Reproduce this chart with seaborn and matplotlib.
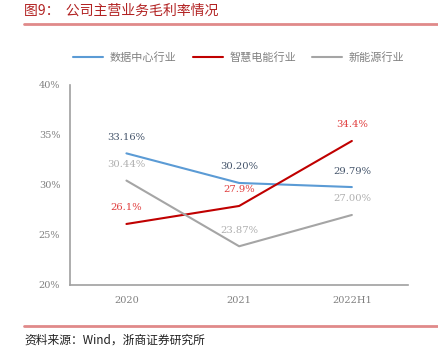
import pandas as pd
import seaborn as sns
import matplotlib.pyplot as plt
from matplotlib.lines import Line2D

periods = ['2020', '2021', '2022H1']
series_names = ['数据中心行业', '智慧电能行业', '新能源行业']
data_center = [33.16, 30.20, 29.79]
smart_power = [26.1, 27.9, 34.4]
new_energy = [30.44, 23.87, 27.00]
point_labels = [['33.16%', '30.20%', '29.79%'],
                ['26.1%', '27.9%', '34.4%'],
                ['30.44%', '23.87%', '27.00%']]
y_ticks = [20, 25, 30, 35, 40]


def main() -> None:
    rows = []
    for name, vals in zip(series_names, [data_center, smart_power, new_energy]):
        for p, v in zip(periods, vals):
            rows.append({'period': p, 'series': name, 'value': v})
    df = pd.DataFrame(rows)

    sns.set_style('white')
    plt.rcParams['font.family'] = ['Noto Sans CJK SC', 'DejaVu Sans']

    line_colors = ['#5B9BD5', '#C00000', '#A5A5A5']
    label_colors = ['#44546A', '#E03C3C', '#AFAFAF']
    palette = dict(zip(series_names, line_colors))

    fig = plt.figure(figsize=(4.38, 3.54), dpi=100)
    ax = fig.add_axes([0.160, 0.195, 0.772, 0.565])
    sns.lineplot(data=df, x='period', y='value', hue='series', palette=palette,
                 linewidth=1.5, ax=ax, legend=False, sort=False)

    # data labels
    for i, name in enumerate(series_names):
        sub = df[df['series'] == name]
        for j, v in enumerate(sub['value']):
            ax.text(j, v + 1.6, point_labels[i][j], ha='center', va='center',
                    fontsize=7.2, color=label_colors[i], family='DejaVu Serif')

    ax.set_xlim(-0.5, 2.5)
    ax.set_ylim(20, 40)
    ax.set_yticks(y_ticks)
    ax.set_yticklabels([f'{t}%' for t in y_ticks], family='DejaVu Serif',
                       fontsize=7, color='#808080')
    ax.set_xticks([0, 1, 2])
    ax.set_xticklabels(periods, family='DejaVu Serif', fontsize=7, color='#808080')
    ax.set_xticks([-0.5, 0.5, 1.5, 2.5], minor=True)
    ax.tick_params(axis='x', which='major', length=0, pad=8)
    ax.tick_params(axis='x', which='minor', length=3, direction='in', color='#909090', width=1)
    ax.tick_params(axis='y', length=3, direction='in', color='#909090', width=1, pad=7)
    ax.set_xlabel('')
    ax.set_ylabel('')
    for s in ['top', 'right']:
        ax.spines[s].set_visible(False)
    for s in ['left', 'bottom']:
        ax.spines[s].set_color('#A0A0A0')
        ax.spines[s].set_linewidth(1.2)

    handles = [Line2D([], [], color=c, linewidth=1.5) for c in line_colors]
    leg = fig.legend(handles, series_names, loc='center', ncol=3, frameon=False,
                     bbox_to_anchor=(0.545, 0.838), fontsize=8, handlelength=2.7,
                     columnspacing=1.45, handletextpad=0.6)
    for t in leg.get_texts():
        t.set_color('#808080')

    # title and source with rules
    fig.text(0.055, 0.970, '图9：  公司主营业务毛利率情况', fontsize=10,
             color='#B22222', ha='left', va='center')
    fig.add_artist(Line2D([0.055, 1.0], [0.932, 0.932], color='#E08A8A', linewidth=2))
    fig.add_artist(Line2D([0.055, 1.0], [0.079, 0.079], color='#E08A8A', linewidth=2))
    fig.text(0.055, 0.040, '资料来源：Wind，浙商证券研究所', fontsize=8.5,
             color='#202020', ha='left', va='center')

    plt.savefig('out.png', dpi=100)


if __name__ == '__main__':
    main()
